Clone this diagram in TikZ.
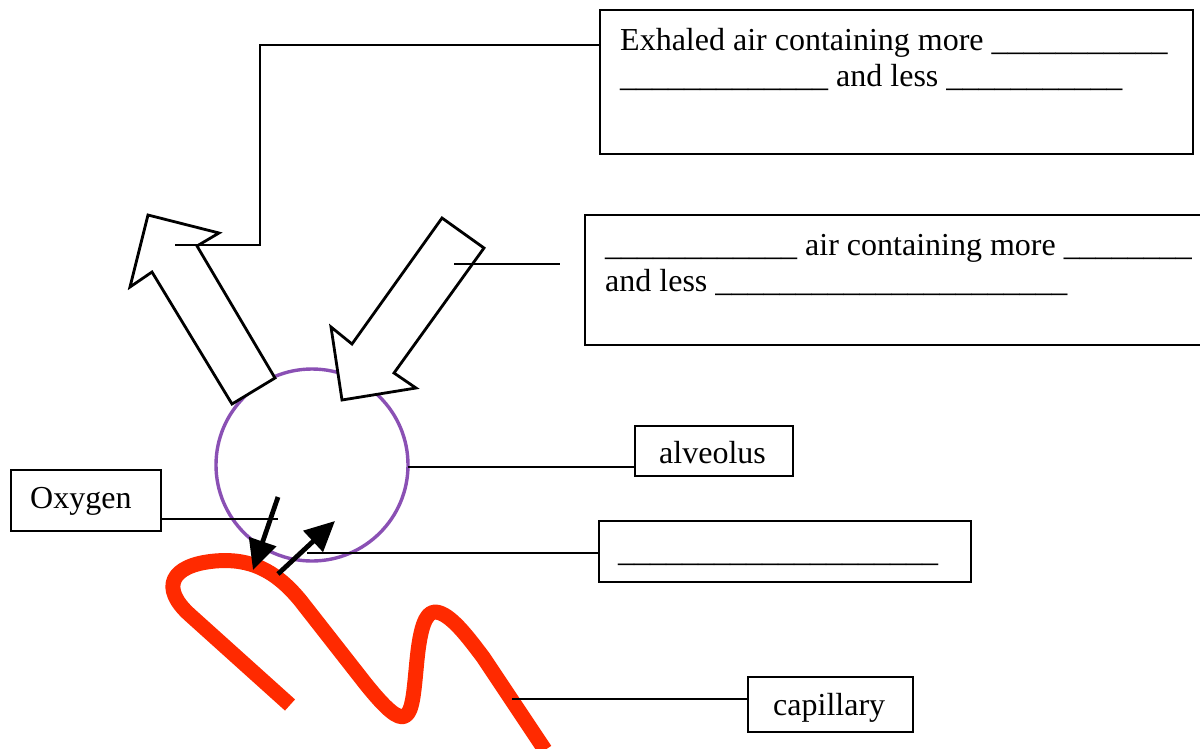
\documentclass[tikz,border=0pt]{standalone}
\usepackage{fontspec}
\setmainfont{Liberation Serif}
\usetikzlibrary{arrows.meta}
\definecolor{alvpurple}{HTML}{8A50B4}
\definecolor{capred}{HTML}{FF2A00}

\begin{document}
\begin{tikzpicture}[x=1pt,y=-1pt,
  box/.style={draw, line width=1.5pt, inner sep=0pt, anchor=north west},
  lbl/.style={anchor=base west, inner sep=0pt, font=\fontsize{32}{36}\selectfont},
  leader/.style={line width=1.3pt},
  blockarrow/.style={draw, line width=2.8pt, fill=white, line join=miter},
  gas/.style={line width=4.8pt, -{Triangle[length=30pt,width=28pt]}}]

\useasboundingbox (0,0) rectangle (1200,748);
\clip (0,0) rectangle (1200,748);

% label boxes
\node[box, minimum width=593pt, minimum height=144pt] (exh) at (599,9) {};
\node[box, minimum width=630pt, minimum height=130pt] (inh) at (584,214) {};
\node[box, minimum width=158pt, minimum height=50pt] (alvbox) at (634,425) {};
\node[box, minimum width=372pt, minimum height=61pt] (blank) at (598,520) {};
\node[box, minimum width=150pt, minimum height=61pt] (oxy) at (10,469) {};
\node[box, minimum width=165pt, minimum height=55pt] (cap) at (747,676) {};

% texts
\node[lbl] (exhA) at (620,50) {Exhaled air containing more \_\_\_\_\_\_\_\_\_\_\_};
\node[lbl] (exhB) at (620,86) {\_\_\_\_\_\_\_\_\_\_\_\_\_ and less \_\_\_\_\_\_\_\_\_\_\_};
\node[lbl] (inhA) at (605,255) {\_\_\_\_\_\_\_\_\_\_\_\_ air containing more \_\_\_\_\_\_\_\_};
\node[lbl] (inhB) at (605,291) {and less \_\_\_\_\_\_\_\_\_\_\_\_\_\_\_\_\_\_\_\_\_\_};
\node[lbl] (alvtxt) at (659,463) {alveolus};
\node[lbl] (blanktxt) at (618,561) {\_\_\_\_\_\_\_\_\_\_\_\_\_\_\_\_\_\_\_\_};
\node[lbl] (oxytxt) at (30,508) {Oxygen};
\node[lbl] (captxt) at (773,715) {capillary};

% alveolus
\node[circle, draw=alvpurple, line width=3.4pt, minimum size=192pt, inner sep=0pt] (alv) at (312,465) {};

% capillary
\draw[capred, line width=15pt, line cap=butt, line join=round]
  (290,705) -- (190,615)
  .. controls (160,588) and (170,565) .. (215,561)
  .. controls (250,558) and (275,570) .. (300,600)
  -- (365,683)
  .. controls (385,708) and (398,720) .. (405,716)
  .. controls (413,712) and (414,690) .. (417,660)
  .. controls (420,630) and (425,612) .. (435,612)
  .. controls (450,612) and (470,640) .. (483,657)
  -- (545,750);

% exhaled and inhaled air
\draw[blockarrow] (148,215) -- (219,233) -- (197,246) -- (275,378)
  -- (232,404) -- (152,272) -- (130,287) -- cycle;
\draw[blockarrow] (442,218) -- (484,248) -- (394,373) -- (416,388)
  -- (342,400) -- (331,327) -- (352,344) -- cycle;

% leader lines
\coordinate (upA) at (175,245);
\coordinate (upB) at (260,45);
\coordinate (exhIn) at (599,45);
\draw[leader] (upA) -| (upB) -- (exhIn);
\coordinate (dnA) at (454,264);
\coordinate (dnB) at (560,264);
\draw[leader] (dnA) -- (dnB);
\coordinate (alvOut) at (408,467);
\draw[leader] (alvOut) -- (alvOut -| alvbox.west);
\coordinate (oxyIn) at (278,519);
\draw[leader] (oxyIn) -- (oxyIn -| oxy.east);
\coordinate (wallIn) at (307,553);
\draw[leader] (wallIn) -- (wallIn -| blank.west);
\coordinate (capIn) at (512,699);
\draw[leader] (capIn) -- (capIn -| cap.west);

% gas exchange
\coordinate (o2a) at (278,497);
\coordinate (o2b) at (253,570);
\coordinate (co2a) at (278,574);
\coordinate (co2b) at (335,521);
\draw[gas] (o2a) -- (o2b);
\draw[gas] (co2a) -- (co2b);
\end{tikzpicture}
\end{document}
